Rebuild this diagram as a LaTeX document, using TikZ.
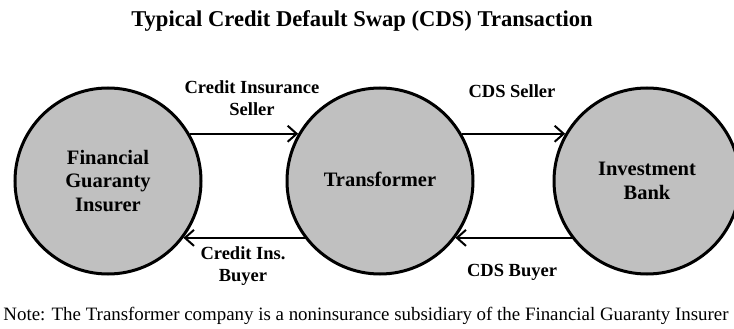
\documentclass[tikz,border=0pt]{standalone}
\usepackage{fontspec}
\setmainfont{Liberation Serif}
\usetikzlibrary{arrows.meta}
\definecolor{circfill}{RGB}{192,192,192}
\tikzset{
  party/.style={circle, draw=black, line width=3pt, fill=circfill, minimum size=186pt, inner sep=0pt, align=center, font=\bfseries\fontsize{20.5}{23.5}\selectfont},
  flow/.style={line width=2.5pt, -{Straight Barb[length=9pt,width=16pt,line width=2pt]}},
  lbl/.style={align=center, inner sep=0pt, font=\bfseries\fontsize{18.5}{21.5}\selectfont},
}
\begin{document}
\begin{tikzpicture}[x=1pt,y=-1pt]
\useasboundingbox (0,0) rectangle (734,329);
\node[font=\bfseries\fontsize{22.6}{25}\selectfont, inner sep=0pt] (title) at (362,21) {Typical Credit Default Swap (CDS) Transaction};
\node[party] (fgi) at (108,181) {Financial\\Guaranty\\Insurer};
\node[party] (tr) at (380,181) {\raisebox{4pt}{Transformer}};
\node[party] (ib) at (647,181) {Investment\\Bank};
\draw[flow] (fgi.30) -- (tr.150);
\draw[flow] (tr.-143) -- (fgi.-37);
\draw[flow] (tr.30) -- (ib.150);
\draw[flow] (ib.-143) -- (tr.-37);
\node[lbl] (l1) at (252,98) {Credit Insurance\\Seller};
\node[lbl] (l2) at (512,91) {CDS Seller};
\node[lbl] (l3) at (243,266) {Credit Ins.\\Buyer};
\node[lbl] (l4) at (512,272) {CDS Buyer};
\node[inner sep=0pt, font=\fontsize{18.9}{21}\selectfont] (note) at (366,316) {Note: The Transformer company is a noninsurance subsidiary of the Financial Guaranty Insurer};
\end{tikzpicture}
\end{document}
